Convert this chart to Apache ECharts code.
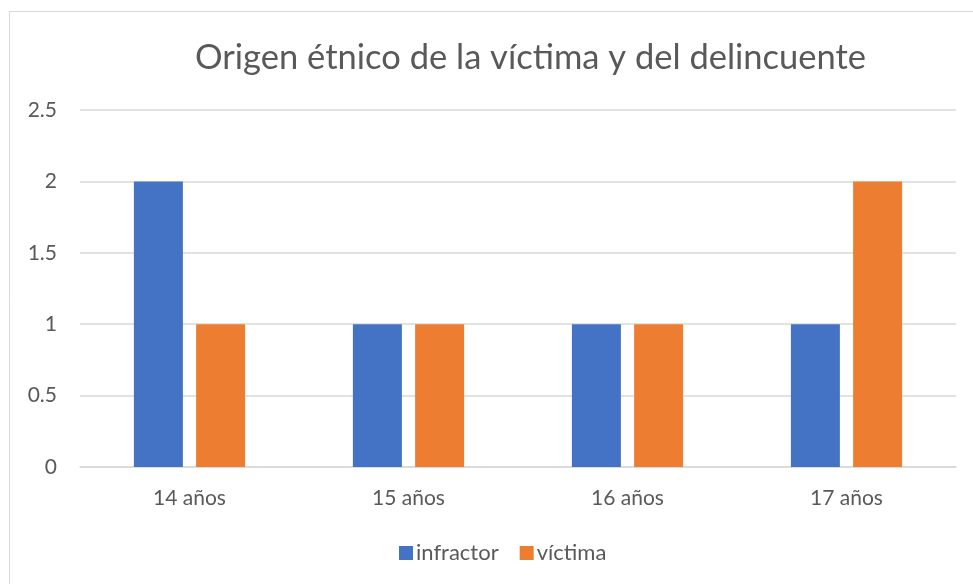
<!DOCTYPE html>
<html>
<head>
<meta charset="utf-8">
<script src="https://cdn.jsdelivr.net/npm/echarts@6/dist/echarts.min.js"></script>
<style>
    html, body { margin: 0; padding: 0; background: #fff; }
    #chart { width: 973px; height: 584px; }
</style>
</head>
<body>
<div id="chart"></div>
<script>
    // datos del gráfico
    var categorias = ['14 años', '15 años', '16 años', '17 años'];
    var infractor = [2, 1, 1, 1];
    var victima = [1, 1, 1, 2];
    var nombresSeries = ['infractor', 'víctima'];

    var fuente = 'Lato';
    var gris = '#595959';

    var myChart = echarts.init(document.getElementById('chart'));
    myChart.setOption({
        animation: false,
        title: {
            text: 'Origen étnico de la víctima y del delincuente',
            left: 190,
            top: 35,
            textStyle: {
                fontFamily: fuente,
                fontSize: 34.5,
                fontWeight: 'normal',
                color: gris
            }
        },
        // marco del gráfico
        graphic: [{
            type: 'rect',
            shape: { x: 9.5, y: 11.5, width: 1000, height: 700 },
            style: { fill: 'none', stroke: '#d9d9d9', lineWidth: 1 },
            silent: true
        }],
        legend: {
            data: nombresSeries,
            bottom: 15,
            left: 394,
            itemWidth: 14,
            itemHeight: 14,
            itemGap: 21,
            icon: 'rect',
            textStyle: {
                fontFamily: fuente,
                fontSize: 22,
                color: gris,
                padding: [0, 0, 0, -2]
            }
        },
        grid: {
            left: 80,
            right: 17,
            top: 110,
            bottom: 117
        },
        xAxis: {
            type: 'category',
            data: categorias,
            axisLine: { lineStyle: { color: '#d9d9d9', width: 1.5 } },
            axisTick: { show: false },
            axisLabel: {
                margin: 21,
                fontFamily: fuente,
                fontSize: 21,
                color: gris
            }
        },
        yAxis: {
            type: 'value',
            min: 0,
            max: 2.5,
            interval: 0.5,
            axisLine: { show: false },
            axisTick: { show: false },
            splitLine: { lineStyle: { color: '#d9d9d9', width: 1.5 } },
            axisLabel: {
                margin: 23,
                fontFamily: fuente,
                fontSize: 21,
                color: gris
            }
        },
        series: [
            {
                name: nombresSeries[0],
                type: 'bar',
                data: infractor,
                barWidth: 49,
                barGap: '27%',
                itemStyle: { color: '#4472C4' }
            },
            {
                name: nombresSeries[1],
                type: 'bar',
                data: victima,
                barWidth: 49,
                barGap: '27%',
                itemStyle: { color: '#ED7D31' }
            }
        ]
    });
</script>
</body>
</html>
